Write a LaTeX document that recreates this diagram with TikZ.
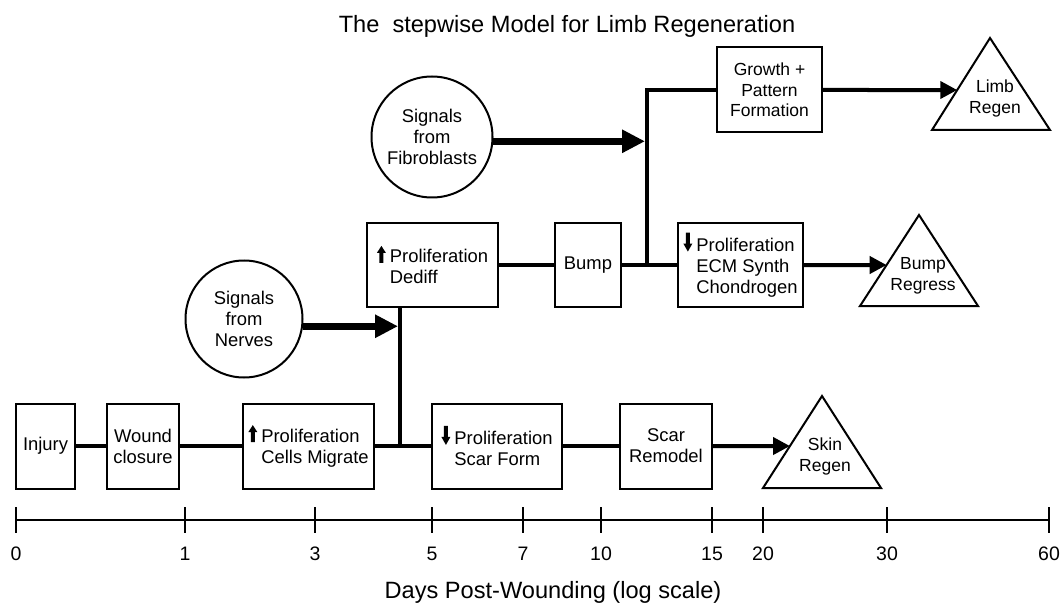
\documentclass[tikz,border=0pt]{standalone}
\usepackage{fontspec}
\setmainfont{Liberation Sans}
\usetikzlibrary{arrows.meta}
\usetikzlibrary{calc}
\tikzset{
    stage/.style={draw, line width=2pt, inner sep=0pt, align=center,
        minimum height=85pt, font=\fontsize{18.4}{21}\selectfont},
    signal/.style={draw, circle, line width=2pt, inner sep=0pt, align=center,
        font=\fontsize{18.4}{21}\selectfont},
    outcome/.style={draw, line width=2pt, line join=miter},
    link/.style={line width=4pt},
    push/.style={line width=4pt, -{Triangle[length=17pt, width=17pt]}},
    bigpush/.style={line width=7pt, shorten >=2pt, -{Triangle[length=23pt, width=22pt]}},
    axis/.style={line width=2.5pt},
}
\newcommand\uparr{\tikz[baseline=0pt, x=1pt, y=1pt]
    \fill (-2,0) -- (-2,10) -- (-4.5,10) -- (0,17) -- (4.5,10) -- (2,10) -- (2,0) -- cycle;}
\newcommand\dnarr{\tikz[baseline=0pt, x=1pt, y=1pt]
    \fill (-2,19) -- (-2,8) -- (-4.5,8) -- (0,0) -- (4.5,8) -- (2,8) -- (2,19) -- cycle;}
\newcommand\gap{\hspace{4pt}}

\begin{document}
\begin{tikzpicture}[x=1pt, y=-1pt]

    \useasboundingbox (0,0) rectangle (1060,604);

    \def\yA{446} \def\yB{265} \def\yC{90}

    \node[font=\fontsize{23.6}{26}\selectfont] (title) at (567,26)
        {The\ \ stepwise Model for Limb Regeneration};

    % bottom row: skin
    \node[stage, minimum width=59pt] (injury) at (45.5,\yA) {Injury};
    \node[stage, minimum width=72pt] (wound) at (143,\yA) {Wound\\closure};
    \node[stage, minimum width=131pt, align=left] (migrate) at (308.5,\yA)
        {\uparr\gap Proliferation\\\hphantom{\uparr\gap}Cells Migrate};
    \node[stage, minimum width=130pt, align=left] (scarform) at (497,\yA)
        {\dnarr\gap Proliferation\\\hphantom{\dnarr\gap}Scar Form};
    \node[stage, minimum width=92pt] (remodel) at (666,\yA) {Scar\\Remodel};

    % middle row: bump
    \node[stage, minimum width=131pt, minimum height=84pt, align=left] (dediff) at (432.5,\yB)
        {\uparr\gap Proliferation\\\hphantom{\uparr\gap}Dediff};
    \node[stage, minimum width=66pt, minimum height=84pt] (bump) at (588,\yB) {Bump};
    \node[stage, minimum width=125pt, minimum height=84pt, align=left] (ecm) at (740.5,\yB)
        {\dnarr\gap Proliferation\\\hphantom{\dnarr\gap}ECM Synth\\\hphantom{\dnarr\gap}Chondrogen};

    % top row: limb
    \node[stage, minimum width=105pt, font=\fontsize{17.5}{20.5}\selectfont] (growth) at (769.5,\yC)
        {Growth +\\Pattern\\Formation};

    \node[signal, minimum size=117pt] (nerves) at (244,319) {Signals\\from\\Nerves};
    \node[signal, minimum size=121pt] (fibro) at (432,137) {Signals\\from\\Fibroblasts};

    % outcomes
    \coordinate (skinL) at (763,488); \coordinate (skinT) at (822,396); \coordinate (skinR) at (881,488);
    \coordinate (bumpL) at (860,306); \coordinate (bumpT) at (919,215); \coordinate (bumpR) at (978,306);
    \coordinate (limbL) at (932,130); \coordinate (limbT) at (990,38);  \coordinate (limbR) at (1050,130);
    \foreach \I in {skin,bump,limb}{
        \draw[outcome] (\I L) -- (\I T) -- (\I R) -- cycle;
    }
    \node[align=center, font=\fontsize{17.5}{21}\selectfont] (skin) at (825,456) {Skin\\Regen};
    \node[align=center, font=\fontsize{17.5}{21}\selectfont] (bumpreg) at (923,276) {Bump\\Regress};
    \node[align=center, font=\fontsize{17.5}{21}\selectfont] (limb) at (995,98) {Limb\\Regen};

    \coordinate (skinH) at (remodel -| skinR);
    \coordinate (bumpH) at (ecm -| bumpR);
    \coordinate (limbH) at (growth -| limbR);
    \coordinate (skinIn) at (intersection of skinL--skinT and remodel--skinH);
    \coordinate (bumpIn) at (intersection of bumpL--bumpT and ecm--bumpH);
    \coordinate (limbIn) at (intersection of limbL--limbT and growth--limbH);

    % junctions
    \coordinate (jA) at (400,\yA);
    \coordinate (jB) at (647,\yB);

    \draw[link] (injury) -- (wound);
    \draw[link] (wound) -- (migrate);
    \draw[link] (migrate) -- (scarform);
    \draw[link] (scarform) -- (remodel);
    \draw[link] (jA) -- (dediff.south -| jA);
    \draw[link] (dediff) -- (bump);
    \draw[link] (bump) -- (ecm);
    \draw[link] (jB) |- (growth.west);

    \draw[push] (remodel) -- (skinIn);
    \draw[push] (ecm) -- (bumpIn);
    \draw[push] (growth) -- (limbIn);

    \draw[bigpush] (nerves.-7) -- (nerves.-7 -| jA);
    \draw[bigpush] (fibro.-4) -- (fibro.-4 -| jB);

    % time axis
    \draw[axis] (16,520) -- (1049,520);
    \foreach \x/\d in {16/0, 185/1, 315/3, 432/5, 523/7, 601/10, 712/15, 763/20, 887/30, 1049/60}{
        \draw[axis] (\x,507) -- (\x,533);
        \node[font=\fontsize{19.5}{22}\selectfont] (t\d) at (\x,554) {\d};
    }
    \node[font=\fontsize{23.6}{26}\selectfont] (xlabel) at (553,592) {Days Post-Wounding (log scale)};

\end{tikzpicture}
\end{document}
